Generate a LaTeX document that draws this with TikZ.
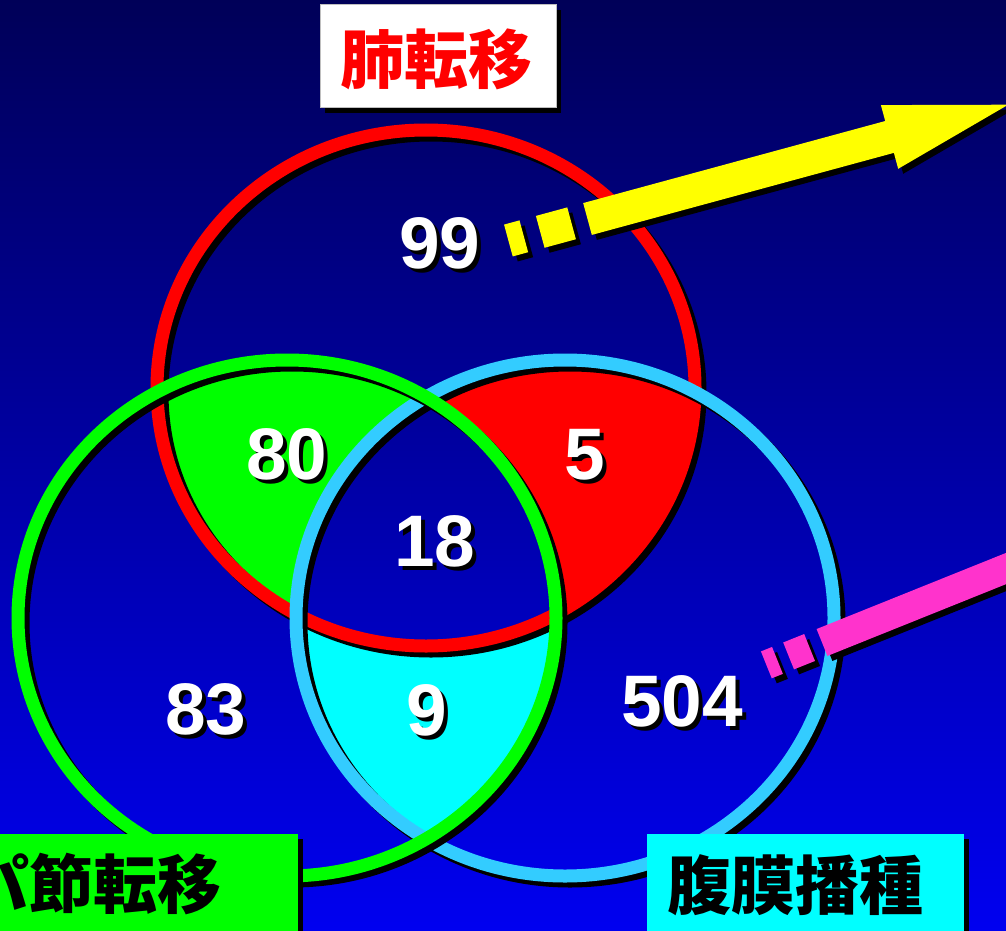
\documentclass[tikz,border=0pt]{standalone}
\usepackage{fontspec}
\setmainfont{Liberation Sans}
\newfontfamily\cjk{Noto Sans CJK JP}
\definecolor{bgtop}{RGB}{0,0,88}
\definecolor{bgbot}{RGB}{0,0,240}
\definecolor{ringcyan}{RGB}{51,204,255}
\definecolor{vgreen}{RGB}{0,255,0}
\definecolor{vcyan}{RGB}{0,255,255}
\definecolor{vred}{RGB}{255,0,0}
\definecolor{vyellow}{RGB}{255,255,0}
\definecolor{vmagenta}{RGB}{255,51,204}
\tikzset{
  redE/.style={insert path={(426,388) ellipse [x radius=269, y radius=258]}},
  greenE/.style={insert path={(287,618) ellipse [x radius=269, y radius=258]}},
  cyanE/.style={insert path={(565,618) ellipse [x radius=269, y radius=258]}},
  ring/.style={line width=13},
  numtxt/.style={text=white, font=\fontsize{73}{73}\selectfont\bfseries, inner sep=0, anchor=base},
  numshadow/.style={numtxt, text=black},
  labelbox/.style={rectangle, inner sep=0, minimum width=#1, minimum height=106},
  cjklabel/.style={font=\cjk\bfseries\fontsize{64}{64}\selectfont, inner sep=0, anchor=base, text=black}
}
\newcommand\vennnum[4]{%
  \node[numshadow] (#1s) at (#2+4,#3+4) {#4};
  \node[numtxt] (#1) at (#2,#3) {#4};}
\begin{document}
\begin{tikzpicture}[x=1pt,y=-1pt]
\useasboundingbox (0,0) rectangle (1006,931);
\clip (0,0) rectangle (1006,931);
% background
\shade[top color=bgtop, bottom color=bgbot] (0,0) rectangle (1006,931);
% filled regions
\begin{scope}
  \clip[redE]; \clip[greenE];
  \fill[vgreen, even odd rule] (-50,-50) rectangle (1100,1000) [cyanE];
\end{scope}
\begin{scope}
  \clip[redE]; \clip[cyanE];
  \fill[vred, even odd rule] (-50,-50) rectangle (1100,1000) [greenE];
\end{scope}
\begin{scope}
  \clip[greenE]; \clip[cyanE];
  \fill[vcyan, even odd rule] (-50,-50) rectangle (1100,1000) [redE];
\end{scope}
% rings with shadows
\draw[ring, black, shift={(5,5)}] [redE];
\draw[ring, vred] [redE];
\draw[ring, black, shift={(5,5)}] [cyanE];
\draw[ring, ringcyan] [cyanE];
\draw[ring, black, shift={(5,5)}] [greenE];
\draw[ring, vgreen] [greenE];
% yellow arrow (shadow, then arrow)
\begin{scope}[shift={(592.5,224)}, rotate=15.2]
  \fill[black] (-82,-16.5) rectangle (-66,16.5);
  \fill[black] (-49,-16.5) rectangle (-16.5,16.5);
  \fill[black] (0,-16.5) -- (313,-16.5) -- (313,-33) -- (436,0) -- (313,33) -- (313,16.5) -- (0,16.5) -- cycle;
\end{scope}
\begin{scope}[shift={(587.5,219)}, rotate=15.2]
  \fill[vyellow] (-82,-16.5) rectangle (-66,16.5);
  \fill[vyellow] (-49,-16.5) rectangle (-16.5,16.5);
  \fill[vyellow] (0,-16.5) -- (313,-16.5) -- (313,-33) -- (436,0) -- (313,33) -- (313,16.5) -- (0,16.5) -- cycle;
\end{scope}
% magenta arrow
\begin{scope}[shift={(827,647.5)}, rotate=21.9]
  \fill[black] (-60,-14.5) rectangle (-48,14.5);
  \fill[black] (-36,-14.5) rectangle (-13.4,14.5);
  \fill[black] (0,-14.5) rectangle (300,14.5);
\end{scope}
\begin{scope}[shift={(822,642.5)}, rotate=21.9]
  \fill[vmagenta] (-60,-14.5) rectangle (-48,14.5);
  \fill[vmagenta] (-36,-14.5) rectangle (-13.4,14.5);
  \fill[vmagenta] (0,-14.5) rectangle (300,14.5);
\end{scope}
% numbers
\vennnum{n99}{440}{268}{99}
\vennnum{n80}{287}{479}{80}
\vennnum{n5}{585}{479}{5}
\vennnum{n18}{435}{566}{18}
\vennnum{n83}{206}{734}{83}
\vennnum{n9}{427}{735}{9}
\vennnum{n504}{682}{726}{504}
% label boxes
\node[labelbox=236, minimum height=103, fill=black] (lungsh) at (443,61.5) {};
\node[labelbox=236, minimum height=103, fill=white, draw=gray!50, line width=1] (lungbox) at (438,56.5) {};
\node[cjklabel, text=vred] (lung) at (436.5,84) {肺転移};
\node[labelbox=308, fill=black] (lymphsh) at (149,892) {};
\node[labelbox=308, fill=vgreen] (lymphbox) at (144,887) {};
\node[cjklabel, anchor=base east] (lymph) at (222,908) {パ節転移};
\node[labelbox=317, fill=black] (perish) at (810.5,892) {};
\node[labelbox=317, fill=vcyan] (peribox) at (805.5,887) {};
\node[cjklabel] (peri) at (795,909) {腹膜播種};
\end{tikzpicture}
\end{document}
